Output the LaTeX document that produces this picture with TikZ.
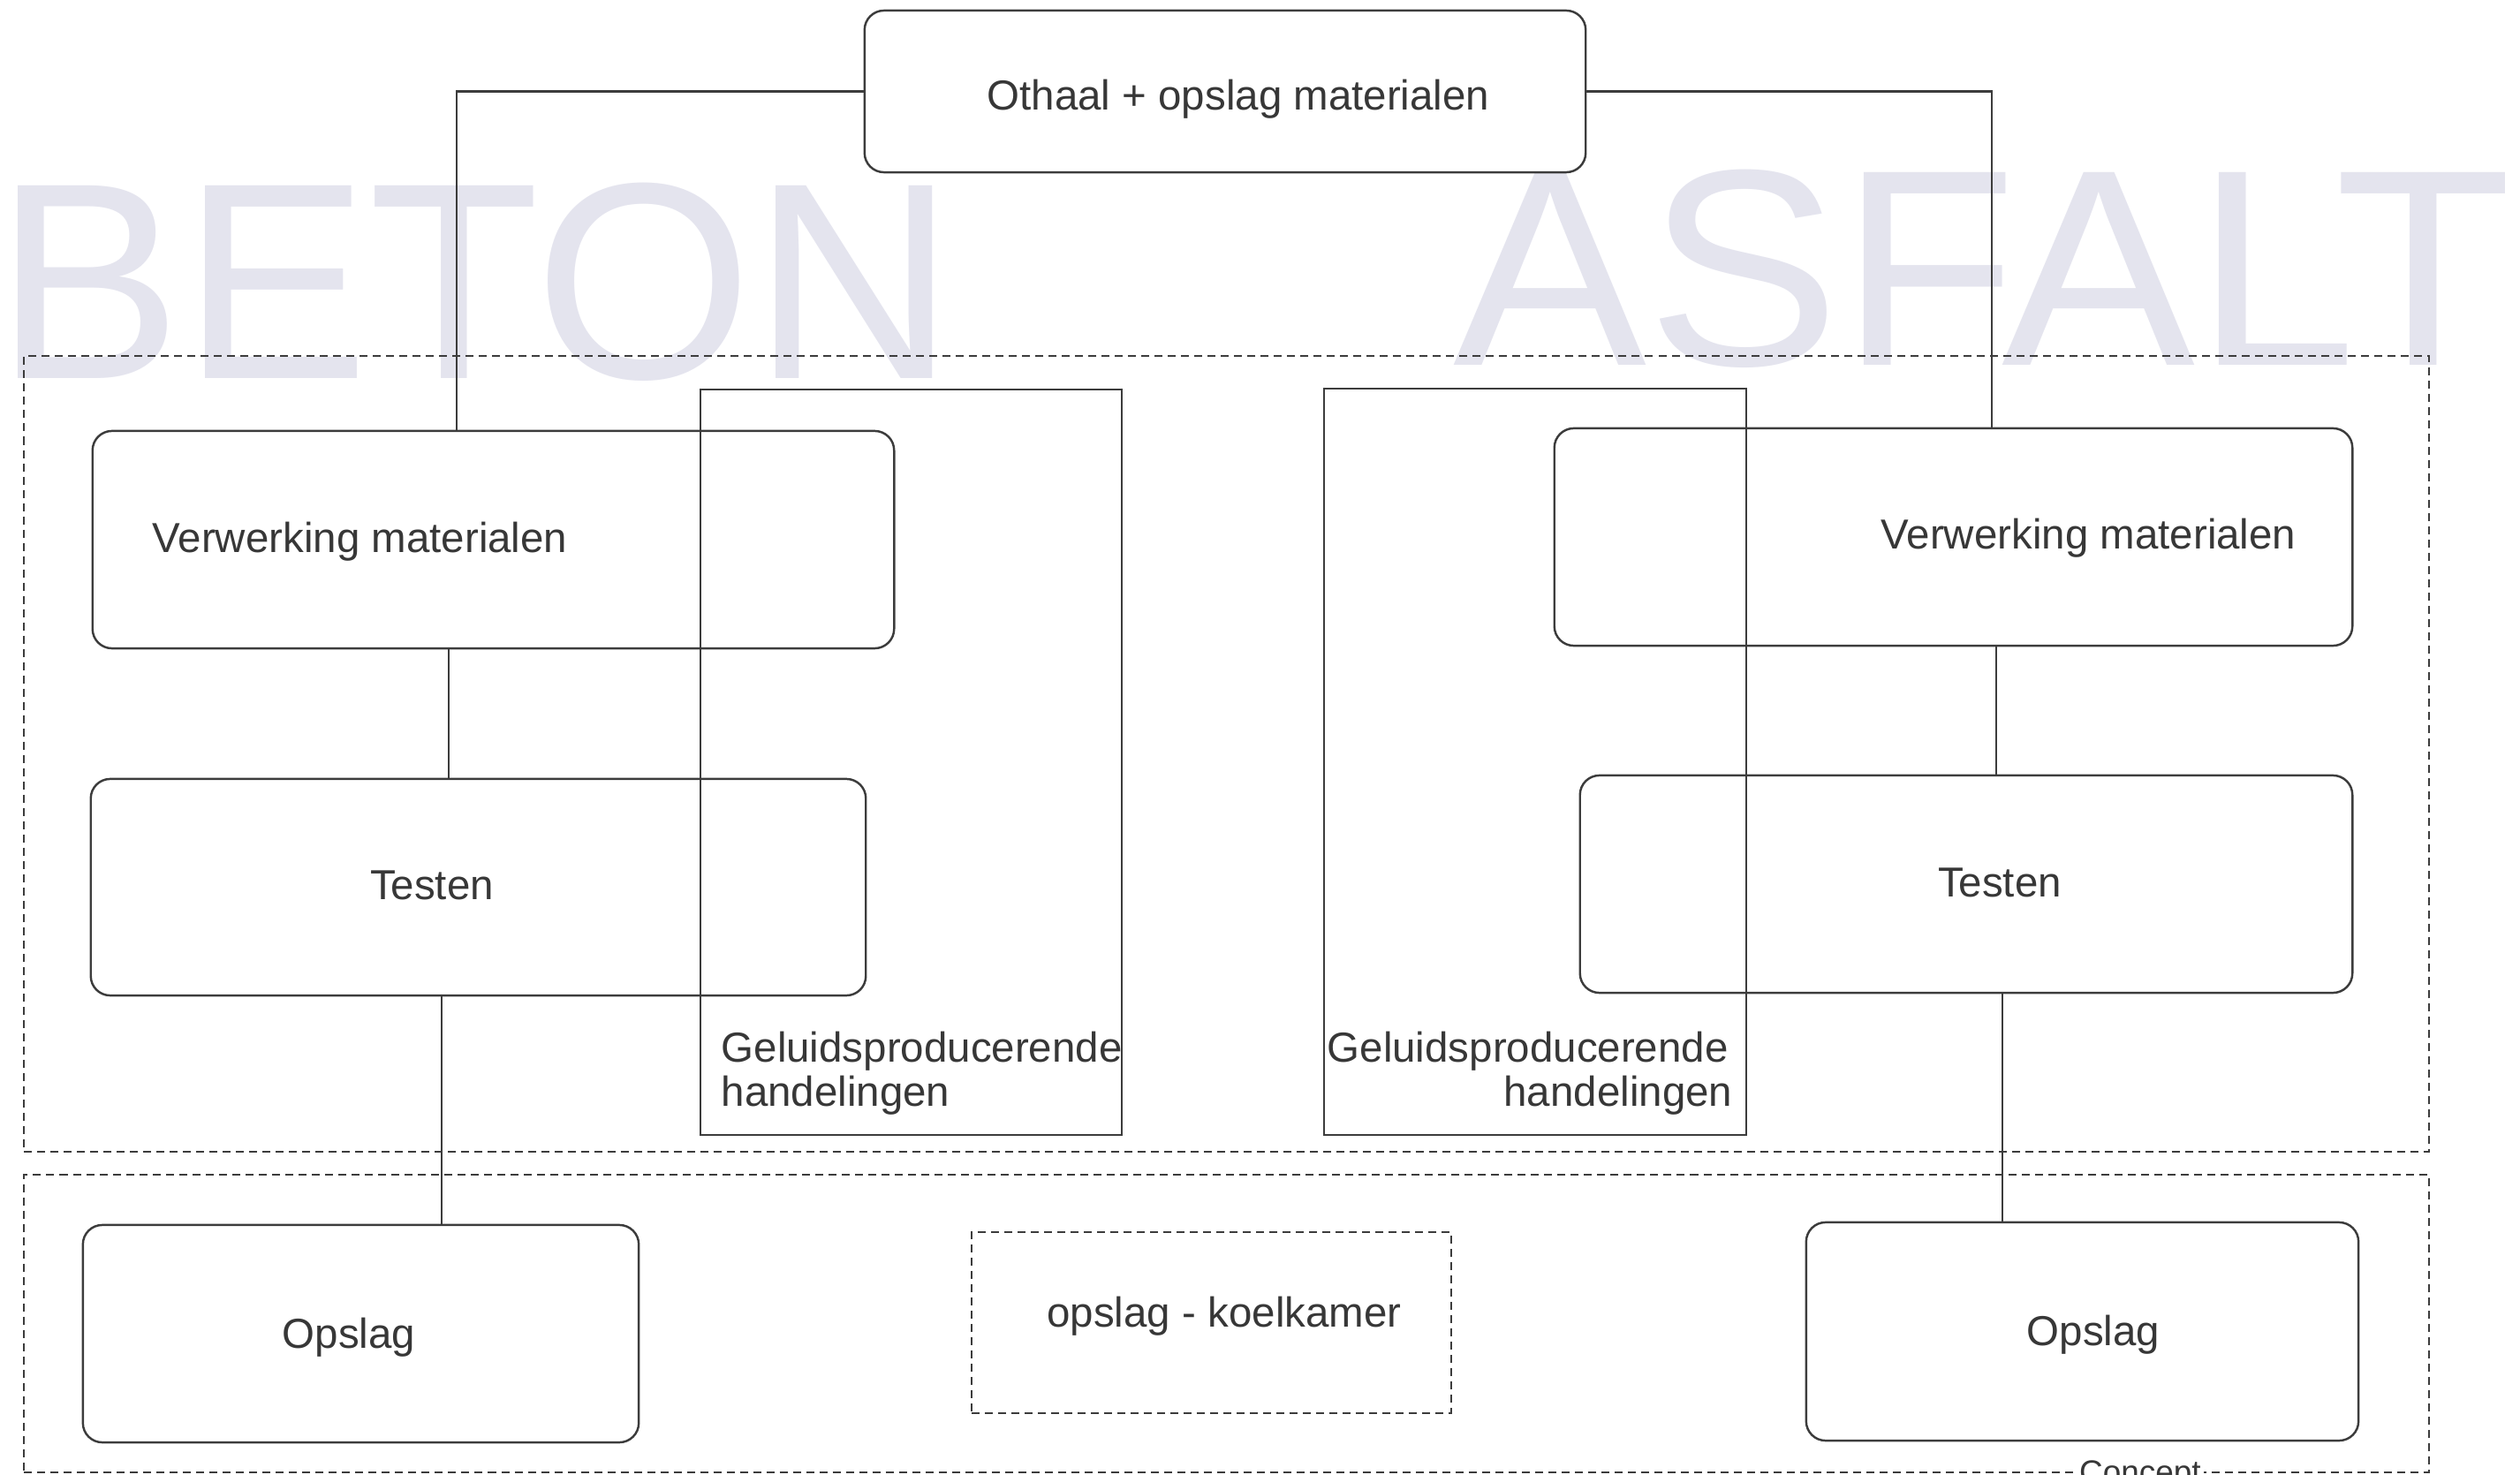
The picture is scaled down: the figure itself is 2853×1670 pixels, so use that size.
\documentclass[tikz,border=0pt]{standalone}
\usepackage{fontspec}
\setmainfont{Liberation Sans}
\definecolor{wm}{RGB}{228,228,238}
\definecolor{ln}{RGB}{60,60,60}
\definecolor{tx}{RGB}{55,55,55}
\begin{document}
\begin{tikzpicture}[x=0.01cm,y=-0.01cm,
  rbox/.style={draw=ln, line width=0.7pt, rounded corners=0.22cm, inner sep=0pt, outer sep=0pt},
  gbox/.style={draw=ln, line width=0.6pt, inner sep=0pt, outer sep=0pt},
  zone/.style={draw=ln, line width=0.7pt, dash pattern=on 0.09cm off 0.06cm, inner sep=0pt, outer sep=0pt},
  conn/.style={draw=ln, line width=0.6pt},
  lbl/.style={text=tx, font=\fontsize{13.5}{16}\selectfont, inner sep=0pt},
  wmark/.style={text=wm, font=\fontsize{90.2}{100}\selectfont, inner sep=0pt}]
\useasboundingbox (0,0) rectangle (2853,1670);
% watermark
\node[wmark, anchor=base west] (beton) at (-6,429) {BETON};
\node[wmark, anchor=base west, xscale=1.035] (asfalt) at (1645,414) {ASFALT};
% zones
\node[zone, minimum width=27.21cm, minimum height=9.01cm] (zone1) at (1388.5,853.5) {};
\node[zone, minimum width=27.21cm, minimum height=3.37cm] (zone2) at (1388.5,1498.5) {};
\node[zone, minimum width=5.43cm, minimum height=2.05cm] (koel) at (1371.5,1497.5) {};
% noise areas
\node[gbox, minimum width=4.77cm, minimum height=8.44cm] (gl) at (1031.5,863) {};
\node[gbox, minimum width=4.78cm, minimum height=8.45cm] (gr) at (1738,862.5) {};
% boxes
\node[rbox, minimum width=8.16cm, minimum height=1.83cm] (top) at (1387,103.5) {};
\node[rbox, minimum width=9.07cm, minimum height=2.46cm] (vl) at (558.5,611) {};
\node[rbox, minimum width=8.77cm, minimum height=2.45cm] (tl) at (541.5,1004.5) {};
\node[rbox, minimum width=6.29cm, minimum height=2.46cm] (ol) at (408.5,1510) {};
\node[rbox, minimum width=9.03cm, minimum height=2.46cm] (vr) at (2211.5,608) {};
\node[rbox, minimum width=8.74cm, minimum height=2.46cm] (tr) at (2226,1001) {};
\node[rbox, minimum width=6.25cm, minimum height=2.47cm] (or) at (2357.5,1507.5) {};
% connectors
\coordinate (xl) at (517,0);
\coordinate (xr) at (2255,0);
\coordinate (xl2) at (508,0);
\coordinate (xl3) at (500,0);
\coordinate (xr2) at (2260,0);
\coordinate (xr3) at (2267,0);
\draw[conn] (top.west) -| (xl |- vl.north);
\draw[conn] (top.east) -| (xr |- vr.north);
\draw[conn] (xl2 |- vl.south) -- (xl2 |- tl.north);
\draw[conn] (xl3 |- tl.south) -- (xl3 |- ol.north);
\draw[conn] (xr2 |- vr.south) -- (xr2 |- tr.north);
\draw[conn] (xr3 |- tr.south) -- (xr3 |- or.north);
% labels
\node[lbl, anchor=base] (ttop) at (1402,125) {Othaal + opslag materialen};
\node[lbl, anchor=base west] (tvl) at (172,626) {Verwerking materialen};
\node[lbl, anchor=base] (ttl) at (489,1018) {Testen};
\node[lbl, anchor=base] (tol) at (395,1526) {Opslag};
\node[lbl, anchor=base west] (tvr) at (2129,622) {Verwerking materialen};
\node[lbl, anchor=base] (ttr) at (2264,1015) {Testen};
\node[lbl, anchor=base] (tor) at (2370,1523) {Opslag};
\node[lbl, anchor=base] (tkoel) at (1386,1502) {opslag - koelkamer};
\node[lbl, anchor=base west] (tgl1) at (816,1202) {Geluidsproducerende};
\node[lbl, anchor=base west] (tgl2) at (816,1252) {handelingen};
\node[lbl, anchor=base west] (tgr1) at (1502,1202) {Geluidsproducerende};
\node[lbl, anchor=base east] (tgr2) at (1962,1252) {handelingen};
\node[lbl, font=\fontsize{10.5}{12}\selectfont, fill=white, inner sep=1pt, anchor=base west] (concept) at (2350,1679) {Concept};
\end{tikzpicture}
\end{document}
